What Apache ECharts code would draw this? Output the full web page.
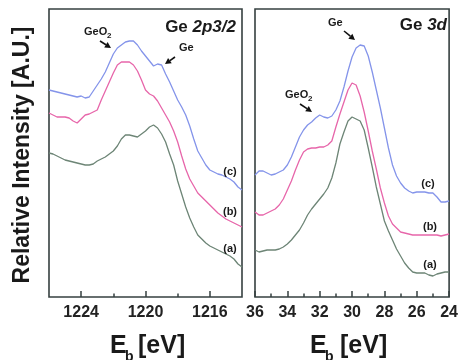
<!DOCTYPE html>
<html><head><meta charset="utf-8">
<script src="https://cdn.jsdelivr.net/npm/echarts@6/dist/echarts.min.js"></script>
<style>html,body{margin:0;padding:0;background:#fff}#c{width:461px;height:360px}</style>
</head><body><div id="c"></div>
<script>
// Binding energies (eV)
const energyLeft = [1226,1225.75,1225.5,1225.25,1225,1224.75,1224.5,1224.25,1224,1223.75,1223.5,1223.25,1223,1222.75,1222.5,1222.25,1222,1221.75,1221.5,1221.25,1221,1220.75,1220.5,1220.25,1220,1219.75,1219.5,1219.25,1219,1218.75,1218.5,1218.25,1218,1217.75,1217.5,1217.25,1217,1216.75,1216.5,1216.25,1216,1215.75,1215.5,1215.25,1215,1214.75,1214.5,1214.25,1214];
const energyRight = [36,35.75,35.5,35.25,35,34.75,34.5,34.25,34,33.75,33.5,33.25,33,32.75,32.5,32.25,32,31.75,31.5,31.25,31,30.75,30.5,30.25,30,29.75,29.5,29.25,29,28.75,28.5,28.25,28,27.75,27.5,27.25,27,26.75,26.5,26.25,26,25.75,25.5,25.25,25,24.75,24.5,24.25,24];

// Ge 2p3/2 intensities (a.u., offset curves)
const curveA_2p = [144,143,141,139,137,136,135,134,133,132,132,133,136,138,140,143,146,151,158,162,162,161,160,163,166,170,172,169,163,155,143,132,116,103,90,79,70,62,58,54,51,49,47,45,43,41,38,33,30];
const curveB_2p = [184,182,180,180,180,179,176,174,178,182,183,185,187,197,206,215,224,232,235,235,235,232,226,217,207,203,201,196,189,182,175,166,155,141,128,118,111,104,100,96,92,88,84,81,78,76,74,72,70];
const curveC_2p = [207,206,205,204,203,202,201,200,201,199,200,206,212,218,225,234,243,249,252,255,256,256,252,246,241,236,231,233,232,223,215,206,197,190,182,171,158,146,139,132,127,125,123,122,120,118,115,110,107];

// Ge 3d intensities
const curveA_3d = [47,45,46,47,47,47,48,50,53,57,62,67,74,82,88,93,98,103,109,119,134,153,165,176,180,178,176,167,149,130,110,93,76,66,57,48,41,34,29,25,24,24,24,22,21,23,24,25,25];
const curveB_3d = [85,82,82,84,86,88,92,98,107,116,127,137,145,148,149,149,150,150,152,156,170,183,195,207,214,212,201,185,166,146,128,109,94,81,73,69,65,64,63,62,62,62,62,62,62,62,61,62,63];
const curveC_3d = [122,126,126,124,122,123,125,127,132,140,150,160,167,172,175,179,182,180,179,181,187,196,210,226,240,249,252,251,241,225,207,189,169,149,132,121,114,109,106,104,105,105,105,104,104,100,95,95,96];

// Tick labels
const leftMajorTicks = [1224,1220,1216];
const leftMinorTicks = [1222,1218];
const curveLabels = ['(a)','(b)','(c)'];

const COLORS = ['#6d8576','#e766aa','#8494ea'];
const FRAME = '#364040';
const FONT = '"Liberation Sans", Arial, sans-serif';

function pairs(xs, ys){ return xs.map((x,i)=>[x, ys[i]]); }

function lineSeries(name, xs, ys, color, xi, yi){
  return {name, type:'line', xAxisIndex:xi, yAxisIndex:yi, data:pairs(xs,ys), showSymbol:false,
    lineStyle:{color, width:1.3}, itemStyle:{color}, z:3, silent:true};
}

function txt(x,y,text,size,opts){
  opts = opts||{};
  return {type:'text', x, y, rotation:opts.rotation||0, z:10, silent:true,
    style:{text, fill:'#1a1a1a', fontFamily:FONT, fontSize:size, fontWeight:opts.weight||'bold',
      fontStyle:opts.style||'normal', align:opts.align||'left', verticalAlign:'middle', rich:opts.rich}};
}
function arrow(x1,y1,x2,y2){
  const dx=x2-x1, dy=y2-y1, L=Math.hypot(dx,dy), ux=dx/L, uy=dy/L;
  const hl=6, hw=3.2;
  const bx=x2-ux*hl, by=y2-uy*hl;
  return [
    {type:'line', z:10, silent:true, shape:{x1,y1,x2:bx,y2:by}, style:{stroke:'#111', lineWidth:1.6}},
    {type:'polygon', z:10, silent:true, shape:{points:[[x2,y2],[bx-uy*hw,by+ux*hw],[bx+uy*hw,by-ux*hw]]}, style:{fill:'#111'}}
  ];
}

const axisLabelStyle = {fontFamily:FONT, fontWeight:'bold', fontSize:16, color:'#222', margin:8, formatter:v=>String(v)};

const chart = echarts.init(document.getElementById('c'));
const option = {
  animation:false,
  backgroundColor:'#fff',
  grid:[
    {left:49, top:9, width:193, height:288, show:true, borderColor:FRAME, borderWidth:1.6, backgroundColor:'rgba(0,0,0,0)'},
    {left:255, top:9, width:196, height:288, show:true, borderColor:FRAME, borderWidth:1.6, backgroundColor:'rgba(0,0,0,0)'}
  ],
  xAxis:[
    {gridIndex:0, type:'value', min:1214, max:1226, interval:2, inverse:true,
      axisLine:{show:false}, splitLine:{show:false},
      axisTick:{show:true, inside:true, length:6, customValues:leftMajorTicks, lineStyle:{color:FRAME, width:1.5}},
      axisLabel:Object.assign({customValues:leftMajorTicks}, axisLabelStyle)},
    {gridIndex:0, type:'value', min:1214, max:1226, interval:2, inverse:true, position:'bottom',
      axisLine:{show:false}, splitLine:{show:false}, axisLabel:{show:false},
      axisTick:{show:true, inside:true, length:3.5, customValues:leftMinorTicks, lineStyle:{color:FRAME, width:1.5}}},
    {gridIndex:1, type:'value', min:24, max:36, interval:2, inverse:true,
      axisLine:{show:false}, splitLine:{show:false},
      axisTick:{show:true, inside:true, length:6, lineStyle:{color:FRAME, width:1.5}},
      minorTick:{show:true, splitNumber:2, length:3.5, lineStyle:{color:FRAME, width:1.5}},
      axisLabel:Object.assign({showMinLabel:true, showMaxLabel:true}, axisLabelStyle)}
  ],
  yAxis:[
    {gridIndex:0, type:'value', min:0, max:288, show:false},
    {gridIndex:1, type:'value', min:0, max:288, show:false}
  ],
  series:[
    lineSeries(curveLabels[0]+' 2p', energyLeft, curveA_2p, COLORS[0], 0, 0),
    lineSeries(curveLabels[1]+' 2p', energyLeft, curveB_2p, COLORS[1], 0, 0),
    lineSeries(curveLabels[2]+' 2p', energyLeft, curveC_2p, COLORS[2], 0, 0),
    lineSeries(curveLabels[0]+' 3d', energyRight, curveA_3d, COLORS[0], 2, 1),
    lineSeries(curveLabels[1]+' 3d', energyRight, curveB_3d, COLORS[1], 2, 1),
    lineSeries(curveLabels[2]+' 3d', energyRight, curveC_3d, COLORS[2], 2, 1)
  ],
  graphic:[
    txt(23,155,'Relative Intensity [A.U.]',23,{rotation:Math.PI/2, align:'center'}),
    // x titles
    txt(110,346,'E',25), txt(125,357,'b',14), txt(138,346,'[eV]',25),
    txt(310,346,'E',25), txt(325,357,'b',14), txt(340,346,'[eV]',25),
    // panel titles
    txt(236,27,'{n|Ge }{i|2p3/2}',17,{align:'right', rich:{n:{fontFamily:FONT,fontWeight:'bold',fontSize:17,fill:'#1a1a1a'}, i:{fontFamily:FONT,fontWeight:'bold',fontStyle:'italic',fontSize:17,fill:'#1a1a1a'}}}),
    txt(447,25,'{n|Ge }{i|3d}',17,{align:'right', rich:{n:{fontFamily:FONT,fontWeight:'bold',fontSize:17,fill:'#1a1a1a'}, i:{fontFamily:FONT,fontWeight:'bold',fontStyle:'italic',fontSize:17,fill:'#1a1a1a'}}}),
    // peak annotations
    txt(84,32,'GeO',11), txt(107,36,'2',8),
    txt(179,48,'Ge',11),
    txt(328,23,'Ge',11),
    txt(285,95,'GeO',11), txt(308,99,'2',8),
    ...arrow(100,41,111,48),
    ...arrow(175,57,165,64),
    ...arrow(344,31,355,40),
    ...arrow(300,104,312,112),
    // curve labels
    txt(230,172,curveLabels[2],11,{align:'center'}),
    txt(230,212,curveLabels[1],11,{align:'center'}),
    txt(230,249,curveLabels[0],11,{align:'center'}),
    txt(428,184,curveLabels[2],11,{align:'center'}),
    txt(430,227,curveLabels[1],11,{align:'center'}),
    txt(430,265,curveLabels[0],11,{align:'center'})
  ]
};
chart.setOption(option);
</script>
</body></html>
